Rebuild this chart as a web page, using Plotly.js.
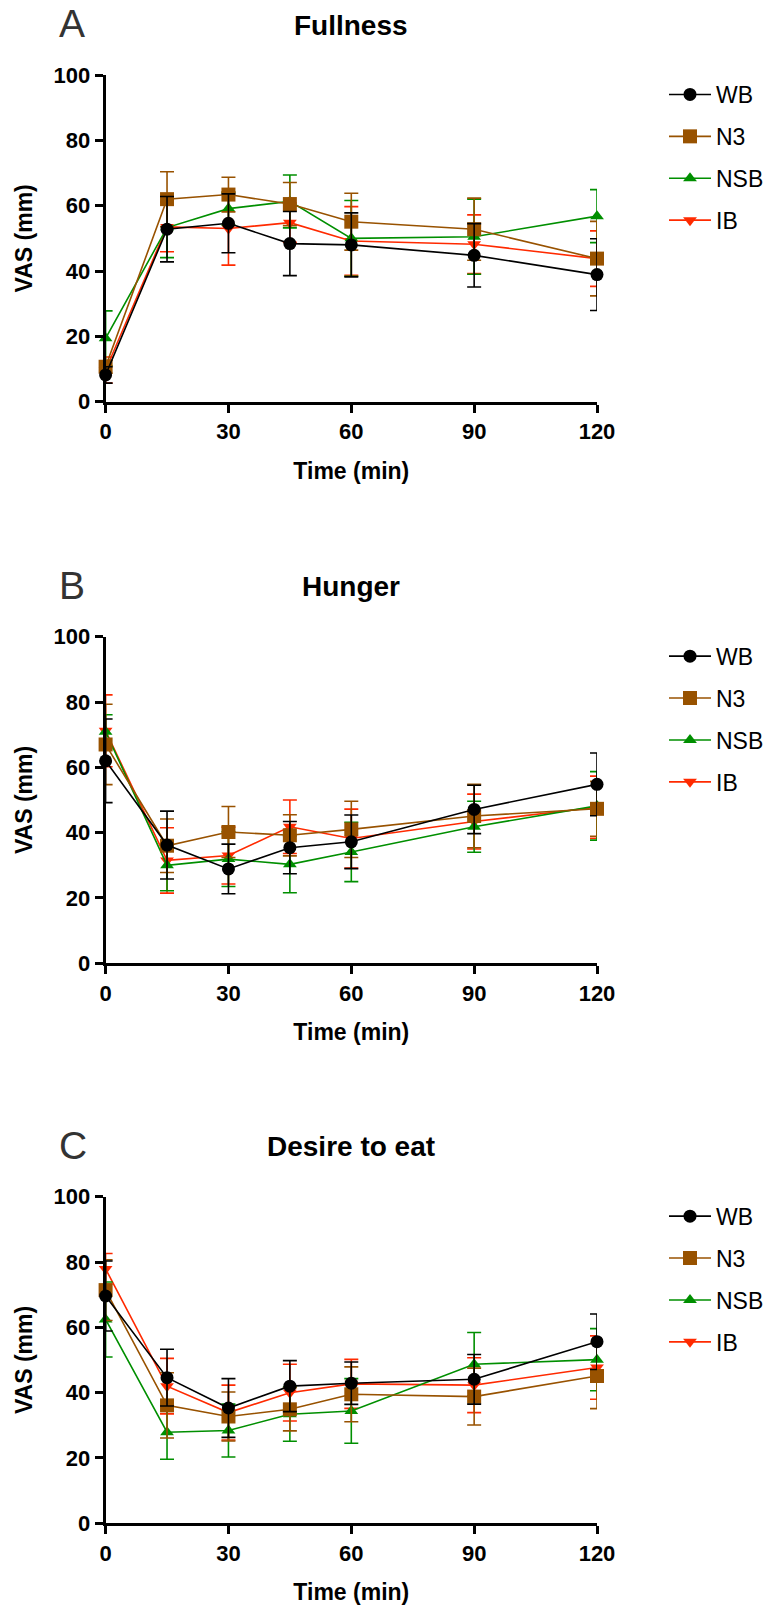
<!DOCTYPE html>
<html>
<head>
<meta charset="utf-8">
<script src="https://cdn.plot.ly/plotly-3.0.1.min.js"></script>
<style>
html,body{margin:0;padding:0;background:#fff;}
#chart{width:777px;height:1607px;}
</style>
</head>
<body>
<div id="chart"></div>
<script>
// ---------------- DATA ----------------
const times = [0, 15, 30, 45, 60, 90, 120];
const xTicks = [0, 30, 60, 90, 120];
const yTicks = [0, 20, 40, 60, 80, 100];
const groups = ["WB", "N3", "NSB", "IB"];
const panelTitles = ["Fullness", "Hunger", "Desire to eat"];
const panelLetters = ["A", "B", "C"];
const xTitle = "Time (min)";
const yTitle = "VAS (mm)";

// Fullness
const fullWB   = [8.2, 52.8, 54.6, 48.4, 48.0, 44.8, 38.9];
const fullWBe  = [2.5, 10.0, 9.0, 9.8, 9.8, 9.7, 11.0];
const fullN3   = [10.7, 62.0, 63.4, 60.5, 55.1, 52.8, 43.8];
const fullN3e  = [2.0, 8.4, 5.3, 6.6, 8.7, 9.5, 11.4];
const fullNSB  = [19.4, 53.3, 59.1, 61.3, 50.0, 50.5, 56.8];
const fullNSBe = [8.4, 9.2, 5.0, 8.1, 11.6, 11.5, 8.1];
const fullIB   = [9.7, 53.5, 53.0, 54.8, 49.2, 48.2, 43.8];
const fullIBe  = [4.0, 7.6, 11.2, 6.0, 10.5, 9.0, 8.5];

// Hunger
const hungWB   = [62.0, 36.2, 28.9, 35.4, 37.2, 47.1, 54.8];
const hungWBe  = [12.8, 10.4, 7.6, 8.0, 8.2, 7.4, 9.6];
const hungN3   = [67.0, 36.0, 40.2, 39.2, 41.0, 45.1, 47.3];
const hungN3e  = [12.3, 8.2, 7.8, 6.3, 8.6, 9.7, 8.4];
const hungNSB  = [70.9, 30.0, 31.9, 30.3, 34.1, 41.8, 48.2];
const hungNSBe = [5.2, 7.8, 8.4, 8.7, 9.1, 7.8, 10.5];
const hungIB   = [71.2, 31.5, 33.0, 41.8, 38.2, 43.4, 47.8];
const hungIBe  = [11.0, 10.0, 8.7, 8.2, 9.0, 8.4, 9.5];

// Desire to eat
const desWB   = [69.6, 44.6, 35.3, 42.0, 42.9, 44.1, 55.6];
const desWBe  = [10.7, 8.7, 9.0, 7.8, 6.5, 7.6, 8.5];
const desN3   = [71.4, 36.1, 32.7, 34.9, 39.5, 38.8, 45.1];
const desN3e  = [9.3, 10.0, 7.5, 6.6, 8.4, 8.7, 10.0];
const desNSB  = [62.4, 27.9, 28.4, 33.4, 34.4, 48.7, 50.1];
const desNSBe = [11.5, 8.3, 8.1, 8.3, 9.9, 9.7, 9.5];
const desIB   = [77.9, 42.0, 33.9, 40.0, 42.7, 42.3, 47.7];
const desIBe  = [4.7, 8.5, 8.4, 8.7, 7.5, 8.4, 9.7];

// ---------------- STYLE ----------------
const colors  = {WB: "#000000", N3: "#985200", NSB: "#008F00", IB: "#FF2A00"};
const symbols = {WB: "circle", N3: "square", NSB: "triangle-up", IB: "triangle-down"};
const sizes   = {WB: 13, N3: 14, NSB: 12, IB: 12};
const ranks   = {WB: 1, N3: 2, NSB: 3, IB: 4};

const panels = [
  {WB: [fullWB, fullWBe], N3: [fullN3, fullN3e], NSB: [fullNSB, fullNSBe], IB: [fullIB, fullIBe]},
  {WB: [hungWB, hungWBe], N3: [hungN3, hungN3e], NSB: [hungNSB, hungNSBe], IB: [hungIB, hungIBe]},
  {WB: [desWB, desWBe], N3: [desN3, desN3e], NSB: [desNSB, desNSBe], IB: [desIB, desIBe]}
];

const W = 777, H = 1607;
const plotLeft = 105.6, plotRight = 597;
const plotTops = [75, 636.7, 1196.7];
const plotBottoms = [401.7, 963.3, 1523.3];
const drawOrder = ["IB", "NSB", "N3", "WB"];
const fontFam = "Liberation Sans, Arial, sans-serif";

const data = [];
const layout = {
  width: W, height: H,
  margin: {l: 0, r: 0, t: 0, b: 0},
  paper_bgcolor: "#ffffff",
  plot_bgcolor: "#ffffff",
  font: {family: fontFam, color: "#000"},
  showlegend: true,
  annotations: []
};

panels.forEach((p, i) => {
  const suf = i === 0 ? "" : String(i + 1);
  const legName = "legend" + suf;
  drawOrder.forEach(g => {
    data.push({
      type: "scatter",
      mode: "lines+markers",
      name: g,
      x: times,
      y: p[g][0],
      xaxis: "x" + suf,
      yaxis: "y" + suf,
      legend: legName,
      legendrank: ranks[g],
      legendgroup: g + suf,
      cliponaxis: false,
      line: {color: colors[g], width: 1.6},
      marker: {color: colors[g], symbol: symbols[g], size: sizes[g], line: {width: 0}},
      error_y: {type: "data", array: p[g][1], visible: true, color: colors[g], thickness: 1.6, width: 7}
    });
  });
  const yd = [1 - plotBottoms[i] / H, 1 - plotTops[i] / H];
  layout["xaxis" + suf] = {
    domain: [plotLeft / W, plotRight / W],
    range: [0, 120],
    anchor: "y" + suf,
    tickmode: "array", tickvals: xTicks, ticktext: xTicks.map(String),
    ticks: "outside", ticklen: 8, tickwidth: 3, tickcolor: "#000",
    showline: true, linewidth: 3, linecolor: "#000",
    showgrid: false, zeroline: false,
    tickfont: {family: fontFam, size: 22, weight: "bold", color: "#000"},
    title: {text: xTitle, standoff: 20, font: {family: fontFam, size: 23, weight: "bold", color: "#000"}},
    fixedrange: true
  };
  layout["yaxis" + suf] = {
    domain: yd,
    range: [0, 100],
    anchor: "x" + suf,
    tickmode: "array", tickvals: yTicks, ticktext: yTicks.map(String),
    ticks: "outside", ticklen: 8, tickwidth: 3, tickcolor: "#000",
    showline: true, linewidth: 3, linecolor: "#000",
    showgrid: false, zeroline: false,
    tickfont: {family: fontFam, size: 22, weight: "bold", color: "#000"},
    title: {text: yTitle, standoff: 15, font: {family: fontFam, size: 23, weight: "bold", color: "#000"}},
    fixedrange: true
  };
  layout[legName] = {
    x: 664 / W, xanchor: "left",
    y: 1 - (plotTops[i] - 2) / H, yanchor: "top",
    bgcolor: "rgba(0,0,0,0)",
    borderwidth: 0,
    traceorder: "grouped",
    tracegroupgap: 9,
    itemwidth: 42,
    font: {family: fontFam, size: 23, color: "#000"}
  };
  // panel title
  layout.annotations.push({
    text: "<b>" + panelTitles[i] + "</b>",
    xref: "paper", yref: "paper",
    x: (plotLeft + plotRight) / 2 / W, xanchor: "center",
    y: 1 - (plotTops[i] - 50) / H, yanchor: "middle",
    showarrow: false,
    font: {family: fontFam, size: 28, color: "#000"}
  });
  // panel letter
  layout.annotations.push({
    text: panelLetters[i],
    xref: "paper", yref: "paper",
    x: 57 / W, xanchor: "left",
    y: 1 - (plotTops[i] - 51) / H, yanchor: "middle",
    showarrow: false,
    font: {family: fontFam, size: 39, color: "#333333"}
  });
});

Plotly.newPlot("chart", data, layout, {displayModeBar: false, staticPlot: true});
</script>
</body>
</html>
